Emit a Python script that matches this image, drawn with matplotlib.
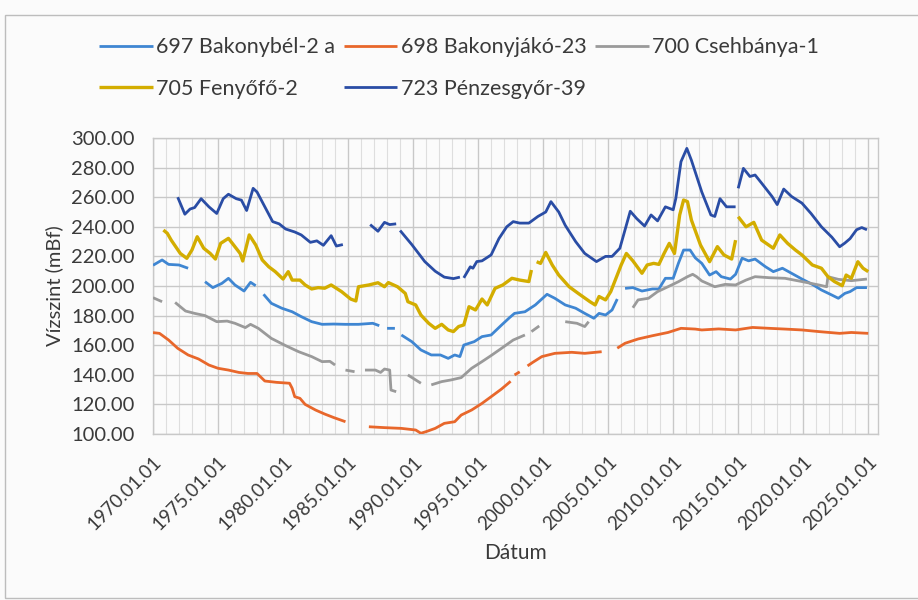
import numpy as np
import matplotlib
matplotlib.use("Agg")
import matplotlib.pyplot as plt
from matplotlib.patches import Rectangle
from matplotlib.ticker import MultipleLocator, FixedLocator

plt.rcParams['font.family'] = ['Lato', 'DejaVu Sans']

nan = np.nan

# 723 Pénzesgyőr-39
years_723 = [1971.9, 1972.45, 1972.85, 1973.2, 1973.7, 1974.3, 1974.9, 1975.4, 1975.8, 1976.4,
             1976.8, 1977.2, 1977.7, 1978.0, 1978.6, 1979.2, 1979.7, 1980.2, 1980.9, 1981.4,
             1982.1, 1982.6, 1983.1, 1983.7, 1984.1, 1984.6, 1985.6, 1986.7, 1987.3, 1987.8,
             1988.2, 1988.7, 1988.85, 1989.0, 1989.9, 1990.9, 1991.7, 1992.4, 1993.1, 1993.6,
             1993.75, 1993.9, 1994.4, 1994.6, 1994.9, 1995.3, 1996.0, 1996.6, 1997.2, 1997.7,
             1998.2, 1998.9, 1999.6, 2000.2, 2000.6, 2001.2, 2001.7, 2002.5, 2003.2, 2004.1,
             2004.8, 2005.3, 2005.9, 2006.7, 2007.2, 2007.8, 2008.3, 2008.8, 2009.4, 2010.0,
             2010.2, 2010.6, 2011.05, 2011.4, 2012.2, 2012.9, 2013.2, 2013.6, 2014.1, 2014.8,
             2014.9, 2015.0, 2015.4, 2015.9, 2016.3, 2016.8, 2017.6, 2018.0, 2018.5, 2019.1,
             2019.9, 2020.6, 2021.4, 2022.2, 2022.8, 2023.2, 2023.6, 2024.1, 2024.5, 2024.9]
level_723 = [260, 248.5, 252, 253, 259, 253.5, 249, 259, 262, 259,
             258, 251, 266, 263.5, 253.5, 243.5, 242, 238.5, 236.5, 234.5,
             229.5, 230.5, 227.5, 234, 227, 228, nan, 241.5, 237, 243,
             241.5, 242, nan, 237.5, 228, 216.5, 210, 206, 205, 206,
             nan, 205.5, 213, 212, 216.5, 217, 221, 232, 240, 243.5,
             242.5, 242.5, 247, 250, 257, 250, 241, 230, 222, 216.5,
             220, 220, 225.5, 250.5, 245.5, 240.5, 248, 244, 253.5, 251.5,
             259, 284, 293, 285, 263.5, 248, 247, 259, 253.5, 253.5,
             nan, 266, 279.5, 274, 275, 269.5, 260.5, 255, 265.5, 260.5,
             256, 249, 240, 233, 226.5, 229, 232, 238, 239.5, 238]

# 705 Fenyőfő-2
years_705 = [1970.8, 1971.1, 1971.4, 1972.1, 1972.6, 1973.0, 1973.4, 1973.9, 1974.4, 1974.8,
             1975.2, 1975.8, 1976.2, 1976.7, 1976.9, 1977.4, 1977.9, 1978.4, 1978.9, 1979.4,
             1980.0, 1980.4, 1980.7, 1981.3, 1981.7, 1982.2, 1982.7, 1983.2, 1983.7, 1984.5,
             1985.2, 1985.6, 1985.8, 1986.6, 1987.3, 1987.8, 1988.1, 1988.8, 1989.4, 1989.6,
             1990.2, 1990.6, 1991.2, 1991.7, 1992.2, 1992.7, 1993.1, 1993.5, 1993.9, 1994.3,
             1994.8, 1995.3, 1995.7, 1996.3, 1996.9, 1997.6, 1998.2, 1998.9, 1999.1, 1999.3,
             1999.5, 1999.8, 2000.2, 2000.7, 2001.2, 2002.0, 2002.7, 2003.6, 2004.0, 2004.3,
             2004.8, 2005.2, 2005.6, 2006.0, 2006.4, 2006.9, 2007.6, 2008.0, 2008.5, 2008.9,
             2009.3, 2009.7, 2010.1, 2010.5, 2010.8, 2011.1, 2011.4, 2012.1, 2012.8, 2013.4,
             2013.9, 2014.5, 2014.8, 2014.9, 2015.0, 2015.6, 2016.2, 2016.8, 2017.7, 2018.2,
             2018.8, 2019.4, 2019.9, 2020.7, 2021.4, 2021.9, 2022.4, 2023.0, 2023.3, 2023.7,
             2024.2, 2024.6, 2025.0]
level_705 = [237.8, 235.6, 231, 222, 218.7, 224.4, 233.3, 225.5, 222, 218.2,
             228.8, 232.2, 227.7, 222, 216.9, 234.5, 227.7, 217.6, 213, 209.7,
             204.7, 209.7, 204, 204, 200.7, 198, 198.9, 198.5, 200.7, 196.2,
             191.2, 189.9, 199.5, 200.7, 202.2, 199.5, 202.3, 199.5, 195, 189.4,
             187.2, 180.4, 174.8, 171.4, 174.1, 170.3, 169.2, 172.6, 173.7, 186,
             183.8, 191.2, 187.2, 198.4, 200.7, 205.2, 204, 203, 210.8, nan,
             216.4, 215.3, 222.7, 214.2, 207.4, 199.5, 195, 189.4, 187.2, 192.9,
             190.6, 196.2, 205.2, 214.2, 222, 217, 208.6, 214.2, 215.3, 214.6,
             222, 228.8, 222, 248, 258.1, 257, 244.6, 227.7, 216.4, 226.6,
             221, 218.2, 231, nan, 246.8, 240, 243, 231, 225.5, 234.5,
             228.8, 224.3, 221, 214.2, 212, 206.3, 203, 200.2, 207.4, 205.2,
             216.4, 212, 209.7]

# 697 Bakonybél-2 a
years_697 = [1970.0, 1970.7, 1971.2, 1972.0, 1972.7, 1973.3, 1974.0, 1974.6, 1975.3, 1975.8,
             1976.3, 1977.0, 1977.5, 1977.9, 1978.2, 1978.5, 1979.1, 1979.9, 1980.7, 1981.4,
             1982.2, 1983.0, 1983.9, 1984.8, 1985.8, 1986.9, 1987.4, 1987.7, 1988.0, 1988.6,
             1988.85, 1989.1, 1989.9, 1990.6, 1991.4, 1992.1, 1992.7, 1993.2, 1993.6, 1993.9,
             1994.7, 1995.3, 1996.0, 1996.8, 1997.4, 1997.8, 1998.6, 1999.4, 2000.3, 2000.9,
             2001.7, 2002.5, 2003.2, 2003.9, 2004.3, 2004.8, 2005.3, 2005.7, 2006.0, 2006.3,
             2006.9, 2007.6, 2008.4, 2008.9, 2009.4, 2010.0, 2010.4, 2010.8, 2011.3, 2011.7,
             2012.2, 2012.8, 2013.3, 2013.7, 2014.4, 2014.8, 2015.3, 2015.8, 2016.3, 2017.1,
             2017.7, 2018.4, 2019.1, 2019.9, 2020.7, 2021.4, 2022.2, 2022.7, 2023.2, 2023.6,
             2024.1, 2024.9]
level_697 = [214, 217.6, 214.6, 214.2, 212, nan, 202.9, 198.9, 201.8, 205.2,
             200.7, 196.6, 202.5, 200.2, nan, 194.4, 188.3, 185, 182.6, 179.3,
             175.9, 174.1, 174.3, 174.1, 174.1, 174.8, 173.2, nan, 171.4, 171.4,
             nan, 166.9, 162.4, 156.8, 153.4, 153.4, 151.1, 153.4, 152.3, 160.1,
             162.4, 165.8, 166.9, 173.6, 178.5, 181.5, 182.6, 187.2, 194.4, 191.7,
             187.2, 185, 181.5, 178.2, 181.5, 180.4, 183.8, 191.2, nan, 198.4,
             198.9, 196.6, 198, 198, 205.2, 205.2, 215.3, 224.3, 224.3, 219,
             215.3, 207.4, 209.7, 206.3, 204.7, 207.9, 218.8, 217, 218.2, 213,
             209.7, 212, 208.6, 204.7, 201.1, 197.3, 193.9, 191.7, 195, 196.2,
             198.9, 198.9]

# 700 Csehbánya-1
years_700 = [1970.0, 1970.7, 1971.2, 1971.7, 1972.5, 1973.2, 1974.0, 1974.9, 1975.7, 1976.3,
             1977.1, 1977.5, 1978.1, 1979.1, 1980.2, 1981.2, 1982.2, 1983.0, 1983.6, 1984.0,
             1984.3, 1984.8, 1985.5, 1985.9, 1986.3, 1987.1, 1987.5, 1987.8, 1988.2, 1988.3,
             1988.7, 1989.1, 1989.6, 1990.6, 1991.0, 1991.4, 1992.2, 1992.9, 1993.7, 1994.5,
             1995.3, 1996.0, 1996.8, 1997.7, 1998.6, 1998.85, 1999.1, 1999.7, 2000.5, 2001.7,
             2002.6, 2003.2, 2003.5, 2005.0, 2006.9, 2007.3, 2008.1, 2008.8, 2009.6, 2010.4,
             2011.1, 2011.5, 2011.8, 2012.2, 2013.2, 2014.0, 2014.8, 2015.6, 2016.3, 2017.4,
             2018.6, 2019.9, 2021.2, 2021.8, 2021.9, 2022.7, 2023.7, 2024.9]
level_700 = [192.1, 189.4, nan, 188.9, 183.1, 181.5, 180, 175.9, 176.3, 174.8,
             171.9, 174.1, 171.4, 164.6, 159.7, 155.6, 152.3, 148.9, 149.1, 146.6,
             nan, 143.2, 142.1, nan, 143.2, 143.2, 141.6, 143.9, 143.2, 129.7,
             128.6, nan, 139.9, 134.3, nan, 133.2, 135.4, 136.5, 138.1, 144.4,
             148.9, 153, 157.9, 163.5, 166.9, nan, 169.2, 173, nan, 175.9,
             174.8, 172.6, 175.9, nan, 185.3, 190.6, 191.7, 196.2, 199.5, 202.9,
             206.3, 207.9, 206.3, 203.4, 199.5, 201.1, 200.7, 204, 206.3, 205.6,
             205.2, 203, 200.7, 199.5, 206.3, 204.5, 203.6, 204.7]

# 698 Bakonyjákó-23
years_698 = [1970.0, 1970.5, 1971.2, 1971.9, 1972.7, 1973.5, 1974.3, 1975.0, 1975.8, 1976.6,
             1977.3, 1978.0, 1978.6, 1979.5, 1980.5, 1980.7, 1980.9, 1981.3, 1981.7, 1982.5,
             1983.2, 1983.9, 1984.8, 1985.7, 1986.6, 1987.8, 1989.1, 1990.2, 1990.6, 1991.0,
             1991.7, 1992.4, 1993.2, 1993.7, 1994.5, 1995.3, 1996.0, 1996.8, 1997.5, 1997.65,
             1997.8, 1998.2, 1998.5, 1998.8, 1999.2, 1999.9, 2000.9, 2002.2, 2003.2, 2004.5,
             2005.4, 2005.7, 2006.3, 2007.3, 2008.4, 2009.6, 2010.6, 2011.7, 2012.2, 2013.5,
             2014.8, 2016.1, 2017.4, 2018.6, 2019.9, 2021.2, 2022.8, 2023.7, 2025.0]
level_698 = [168.5, 168, 163.5, 157.9, 153.4, 150.7, 146.6, 144.4, 143.2, 141.6,
             140.9, 140.9, 135.8, 134.9, 134.3, 130.9, 125.2, 124.1, 120, 116.2,
             113.5, 111.1, 108.3, nan, 104.9, 104.3, 103.8, 102.7, 100.5, 101.6,
             103.8, 107.2, 108.3, 112.8, 116.2, 120.7, 125.2, 130.4, 135.6, nan,
             139.9, 142, nan, 146, 148.4, 152.3, 154.5, 155.2, 154.5, 155.6,
             nan, 158, 161.3, 164.2, 166.4, 168.6, 171.4, 170.9, 170.3, 171,
             170.3, 172, 171.4, 170.9, 170.3, 169.2, 168, 168.6, 168]

series = [
    ("697 Bakonybél-2 a", years_697, level_697, "#3f86d2", 2.0),
    ("698 Bakonyjákó-23", years_698, level_698, "#e8672b", 2.0),
    ("700 Csehbánya-1", years_700, level_700, "#9a9a9a", 2.0),
    ("705 Fenyőfő-2", years_705, level_705, "#d3ad00", 2.4),
    ("723 Pénzesgyőr-39", years_723, level_723, "#2a4da5", 2.0),
]

tick_years = list(range(1970, 2030, 5))
tick_labels = [f"{y}.01.01" for y in tick_years]

text_color = "#3a3a3a"
fig = plt.figure(figsize=(9.18, 6.0), dpi=100, facecolor="#fbfbfb")
ax = fig.add_axes([153 / 918, 1 - 434 / 600, (878 - 153) / 918, (434 - 138) / 600])
ax.set_facecolor("#fbfbfb")

handles = {}
for name, xs, ys, color, lw in series:
    (h,) = ax.plot(xs, ys, color=color, lw=lw, solid_capstyle="butt",
                   solid_joinstyle="round", label=name, zorder=3)
    handles[name] = h

ax.set_xlim(1970, 2025.75)
ax.set_ylim(100, 300)
ax.xaxis.set_major_locator(FixedLocator(tick_years))
ax.xaxis.set_minor_locator(MultipleLocator(1))
ax.set_xticks(tick_years)
ax.set_xticklabels(tick_labels, rotation=45, ha="right", va="top",
                   rotation_mode="anchor", fontsize=13.5, color=text_color)
ax.set_yticks(np.arange(100, 301, 20))
ax.set_yticklabels([f"{v:.2f}" for v in np.arange(100, 301, 20)],
                   fontsize=14.5, color=text_color)
ax.tick_params(axis="both", which="both", length=0)
ax.tick_params(axis="y", pad=13)
ax.tick_params(axis="x", pad=14)

ax.grid(which="major", color="#c8c8c8", lw=1.0, zorder=0)
ax.grid(which="minor", axis="x", color="#dedede", lw=0.8, zorder=0)
for s in ax.spines.values():
    s.set_color("#c8c8c8")
    s.set_linewidth(1.0)

ax.set_ylabel("Vízszint (mBf)", fontsize=14.5, color=text_color, labelpad=6)
ax.set_xlabel("Dátum", fontsize=15, color=text_color, labelpad=7)

order = ["697 Bakonybél-2 a", "705 Fenyőfő-2", "698 Bakonyjákó-23",
         "723 Pénzesgyőr-39", "700 Csehbánya-1"]
leg = fig.legend([handles[n] for n in order], order, loc="center",
                 bbox_to_anchor=(0.5, 1 - 68 / 600), ncol=3, frameon=False,
                 fontsize=15.5, handlelength=2.5, handletextpad=0.15,
                 columnspacing=0.4, labelspacing=1.0)
for t in leg.get_texts():
    t.set_color(text_color)

# chart frame
fig.patches.append(Rectangle((5 / 918, 2 / 600), 1.2, 583 / 600,
                             transform=fig.transFigure, fill=False,
                             edgecolor="#bdbdbd", lw=1.0))

fig.savefig("out.png", dpi=100, facecolor=fig.get_facecolor())
